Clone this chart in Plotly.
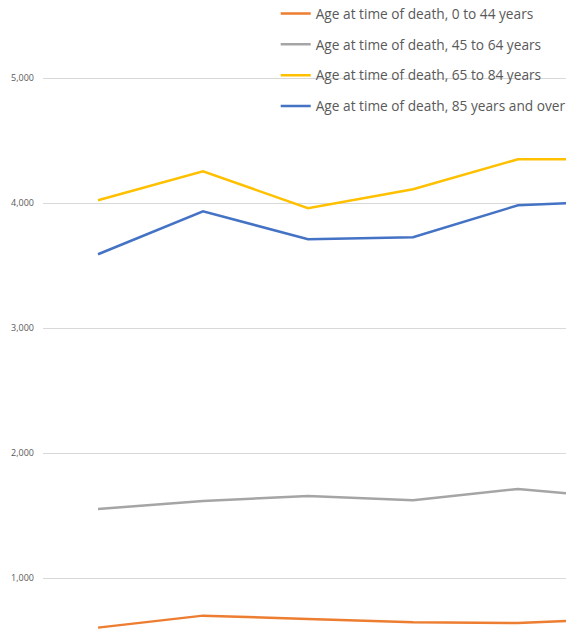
"""
Deaths by age at time of death - line chart
"""
import plotly.graph_objects as go

# x positions (category labels are not shown in the picture)
periods = [0, 1, 2, 3, 4, 5]

age_0_44 = [605, 701, 674, 648, 642, 678]
age_45_64 = [1554, 1618, 1658, 1624, 1714, 1639]
age_65_84 = [4024, 4256, 3960, 4112, 4352, 4352]
age_85_over = [3592, 3936, 3712, 3728, 3984, 4019]

series_names = [
    "Age at time of death, 0 to 44 years",
    "Age at time of death, 45 to 64 years",
    "Age at time of death, 65 to 84 years",
    "Age at time of death, 85 years and over",
]
series_colors = ["#ED7D31", "#A5A5A5", "#FFC000", "#4472C4"]

y_ticks = [1000, 2000, 3000, 4000, 5000]

fig = go.Figure()
for i, (name, vals, color) in enumerate(
    zip(series_names, [age_0_44, age_45_64, age_65_84, age_85_over], series_colors)
):
    fig.add_trace(go.Scatter(
        x=periods, y=vals, mode="lines", name=name,
        legendgroup=f"g{i}",
        line=dict(color=color, width=2.5),
    ))

fig.update_layout(
    width=566, height=629,
    margin=dict(l=43, r=0, t=0, b=0, autoexpand=False),
    paper_bgcolor="white", plot_bgcolor="white",
    font=dict(family="Open Sans, Liberation Sans, sans-serif", color="#595959"),
    showlegend=True,
    legend=dict(
        x=1.009, xanchor="right", y=1.003, yanchor="top",
        bgcolor="rgba(0,0,0,0)",
        font=dict(size=13.7, color="#595959"),
        traceorder="grouped", tracegroupgap=10,
        itemwidth=30,
    ),
)
fig.update_xaxes(
    range=[-0.524, 4.457], showgrid=False, zeroline=False,
    showticklabels=False, showline=False,
)
fig.update_yaxes(
    range=[594, 5626], tickvals=y_ticks, tickformat=",",
    showgrid=True, gridcolor="#D9D9D9", gridwidth=1,
    zeroline=False, showline=False,
    tickfont=dict(size=9, color="#595959"),
    ticklabelstandoff=8,
)

# drop the browser's default page margin so the figure sits at the top-left corner
fig.write_html(
    "out.html",
    config={"displayModeBar": False},
    post_script="document.body.style.margin = '0';",
)
